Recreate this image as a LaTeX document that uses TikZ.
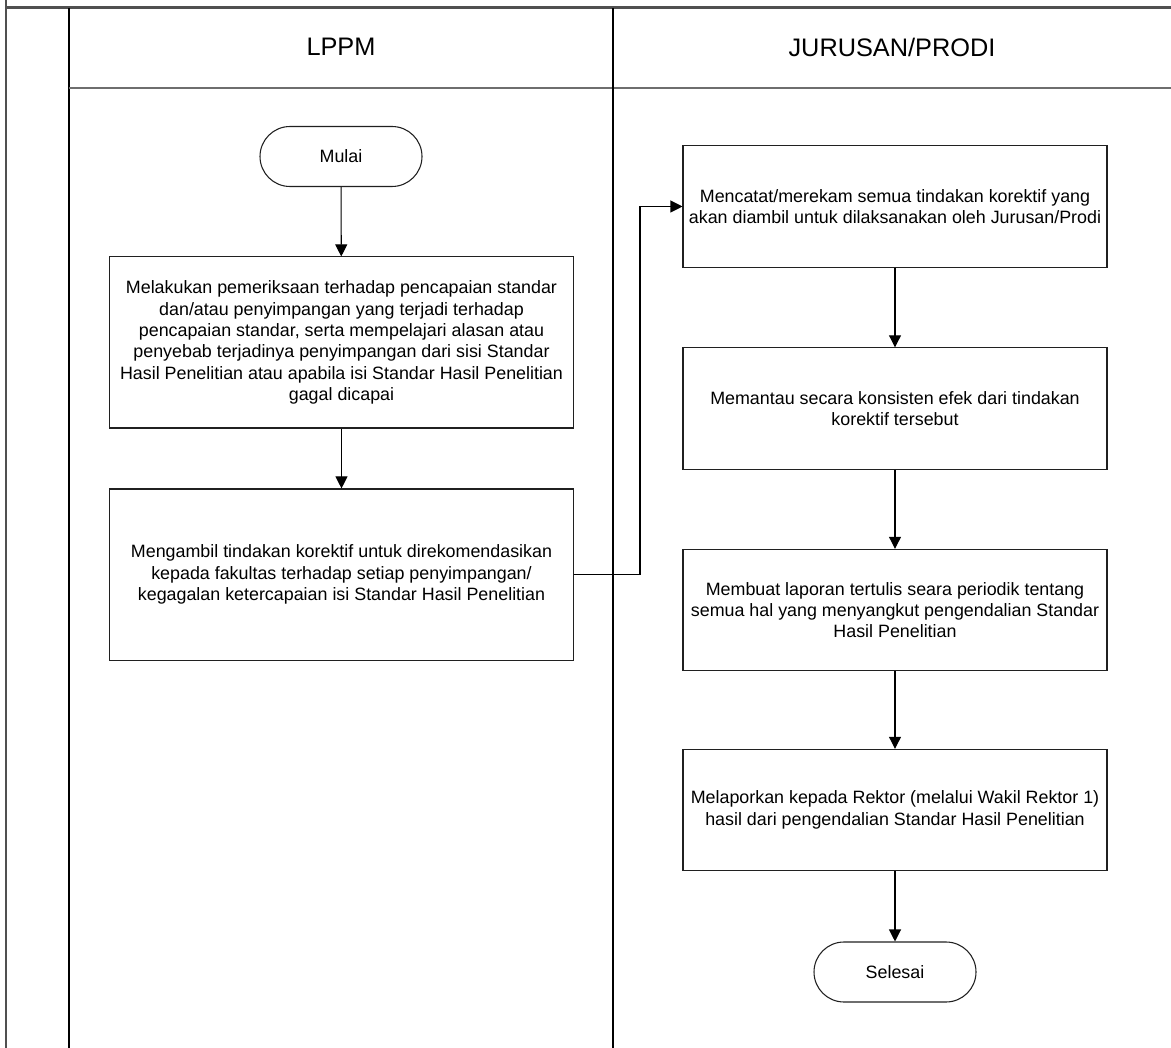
\documentclass[tikz,border=0pt]{standalone}
\usepackage{fontspec}
\setmainfont{Liberation Sans}
\usetikzlibrary{arrows.meta}
\definecolor{framegray}{HTML}{505050}
\definecolor{linegray}{HTML}{6E6E6E}
\definecolor{boxline}{HTML}{202020}
\begin{document}
\begin{tikzpicture}[x=0.75pt,y=-0.75pt,
  txt/.style={font=\fontsize{13.4}{16}\selectfont, align=center},
  procbox/.style={draw=boxline, line width=0.8pt, rectangle, txt, inner sep=0pt},
  smallbox/.style={procbox, minimum width=318pt, minimum height=91pt},
  bigbox/.style={procbox, minimum width=347.5pt, minimum height=128.3pt},
  term/.style={draw=boxline, line width=0.8pt, rectangle, rounded corners=22.5pt, minimum width=121.5pt, minimum height=45pt, txt},
  flow/.style={draw=black, line width=0.8pt, -{Triangle[length=9pt,width=9pt]}},
  header/.style={font=\fontsize{19}{22}\selectfont}
]
\useasboundingbox (0,0) rectangle (1171,1048);
% frame
\draw[framegray, line width=2.4pt] (5,7.5) -- (1171,7.5);
\draw[framegray, line width=1.6pt] (6,0) -- (6,1048);
\draw[black, line width=1.3pt] (69,8) -- (69,1048);
\draw[linegray, line width=1.6pt] (69,88) -- (1171,88);
\draw[black, line width=0.9pt] (613,8) -- (613,1048);
% headers
\node[header] (h1) at (341,47) {LPPM};
\node[header] (h2) at (892,47) {JURUSAN/PRODI};
% nodes
\node[term] (mulai) at (341,156.5) {Mulai};
\node[bigbox] (b1) at (341.5,342.5) {Melakukan pemeriksaan terhadap pencapaian standar\\dan/atau penyimpangan yang terjadi terhadap\\pencapaian standar, serta mempelajari alasan atau\\penyebab terjadinya penyimpangan dari sisi Standar\\Hasil Penelitian atau apabila isi Standar Hasil Penelitian\\gagal dicapai};
\node[bigbox] (b2) at (341.5,574.5) {Mengambil tindakan korektif untuk direkomendasikan\\kepada fakultas terhadap setiap penyimpangan/\\kegagalan ketercapaian isi Standar Hasil Penelitian};
\node[smallbox] (b3) at (895,206.5) {Mencatat/merekam semua tindakan korektif yang\\akan diambil untuk dilaksanakan oleh Jurusan/Prodi};
\node[smallbox] (b4) at (895,408.5) {Memantau secara konsisten efek dari tindakan\\korektif tersebut};
\node[smallbox] (b5) at (895,610) {Membuat laporan tertulis seara periodik tentang\\semua hal yang menyangkut pengendalian Standar\\Hasil Penelitian};
\node[smallbox] (b6) at (895,810) {Melaporkan kepada Rektor (melalui Wakil Rektor 1)\\hasil dari pengendalian Standar Hasil Penelitian};
\node[term] (selesai) at (895,972) {Selesai};
% connectors
\draw[flow] (mulai) -- (b1);
\draw[flow] (b1) -- (b2);
\draw[flow] (b2.east) -| (640,206.5) -- (b3.west);
\draw[flow] (b3) -- (b4);
\draw[flow] (b4) -- (b5);
\draw[flow] (b5) -- (b6);
\draw[flow] (b6) -- (selesai);
\end{tikzpicture}
\end{document}
